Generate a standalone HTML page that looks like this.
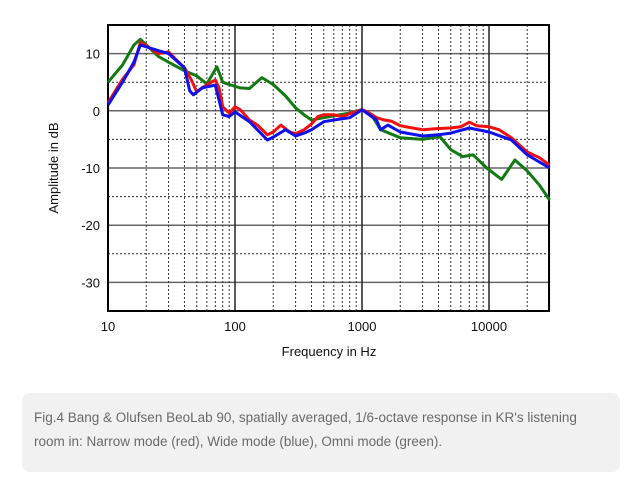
<!DOCTYPE html>
<html><head><meta charset="utf-8">
<style>
body{margin:0;background:#fff;width:637px;height:487px;overflow:hidden;font-family:"Liberation Sans",sans-serif}
#cap{position:absolute;left:22px;top:393px;width:598px;height:79px;background:#f1f1f1;border-radius:8px;box-sizing:border-box;padding:13px 40px 13px 12px;font-size:13.5px;line-height:24px;color:#6a6a6a}
</style></head><body>
<svg id="chart" width="637" height="390" style="position:absolute;left:0;top:0" font-family="Liberation Sans, sans-serif"></svg>
<div id="cap">Fig.4 Bang &amp; Olufsen BeoLab 90, spatially averaged, 1/6-octave response in KR's listening room in: Narrow mode (red), Wide mode (blue), Omni mode (green).</div>
<script>
const redF=[10,13,16,18,25,30,40,45,50,55,65,70,75,80,90,100,110,130,150,180,200,230,270,300,350,400,450,500,600,700,800,1000,1100,1300,1500,1700,2000,2500,3000,4000,5000,6000,7000,8000,10000,12000,15000,20000,25000,30000];
const redV=[1.4,5.5,8,12,10,10.3,7.5,5.5,3.3,4,5,5.4,4,0.7,-0.4,0.7,0.2,-1.6,-2.5,-4.2,-3.7,-2.5,-3.7,-4,-3.3,-2.3,-1,-0.7,-0.7,-1,-0.5,0.2,-0.2,-1.2,-1.6,-1.8,-2.6,-3,-3.3,-3.1,-3,-2.8,-2,-2.6,-2.8,-3.3,-4.7,-7.2,-8.2,-9.5];
const blueF=[10,13,16,18,25,30,40,44,47,55,70,80,90,100,130,180,200,250,300,350,400,500,600,800,1000,1300,1400,1600,2000,3000,4000,5000,7000,10000,15000,20000,30000];
const blueV=[1,5,8.5,11.5,10.5,10,7.5,3.5,2.8,4,4.5,-0.7,-1,-0.2,-1.9,-5.1,-4.6,-3.3,-4.4,-3.9,-3.3,-1.9,-1.6,-1.2,0.2,-1.6,-3.3,-2.5,-3.7,-4.4,-4.2,-3.9,-3,-3.7,-5.1,-7.7,-10];
const greenF=[10,13,16,18,25,30,40,50,60,72,80,90,110,130,163,200,250,300,350,400,500,600,800,1000,1200,1400,2000,3000,4100,5000,6200,7500,9600,12600,16000,20000,25000,30000];
const greenV=[5,8,11.5,12.5,9.5,8.5,7,6.1,4.7,7.7,5,4.6,4,3.9,5.8,4.6,2.6,0.5,-0.7,-1.6,-1.2,-0.9,-0.4,0.2,-0.9,-3.3,-4.7,-5,-4.5,-6.8,-8,-7.7,-10,-12,-8.6,-10.5,-13,-15.6];
const yTicks=[10,0,-10,-20,-30];
const xTicks=[10,100,1000,10000];
const L=108,R=549,T=25,B=311,dbTop=15,dbBot=-35;
const xs=f=>L+(Math.log10(f)-1)*127;
const ys=d=>T+(dbTop-d)/(dbTop-dbBot)*(B-T);
const svg=document.getElementById('chart');const NS='http://www.w3.org/2000/svg';
function mk(t,a,p){const e=document.createElementNS(NS,t);for(const k in a)e.setAttribute(k,a[k]);(p||svg).appendChild(e);return e;}
const grid=mk('g',{});
for(let d=15;d>=-35;d-=5){if(d===15||d===-35)continue;const solid=d%10===0;
 mk('line',{x1:L,x2:R,y1:ys(d),y2:ys(d),stroke:solid?'#666':'#333','stroke-width':solid?1.5:1,'stroke-dasharray':solid?'':'2,2'},grid);}
for(let dec=10;dec<=10000;dec*=10)for(let m=1;m<10;m++){const f=dec*m;if(f>30000)break;const x=xs(f);if(x<=L)continue;
 const solid=m===1;mk('line',{x1:x,x2:x,y1:T,y2:B,stroke:solid?'#222':'#333','stroke-width':solid?1.5:1,'stroke-dasharray':solid?'':'2,2'},grid);}
const fr=mk('rect',{x:L,y:T,width:R-L,height:B-T,fill:'none',stroke:'#000','stroke-width':2});

yTicks.forEach(d=>{const t=mk('text',{x:L-8,y:ys(d)+5,'text-anchor':'end','font-size':13,fill:'#111'});t.textContent=d;
 });
xTicks.forEach(f=>{const t=mk('text',{x:xs(f),y:331,'text-anchor':'middle','font-size':13,fill:'#111'});t.textContent=f;
 });
const xt=mk('text',{x:329,y:356,'text-anchor':'middle','font-size':13,fill:'#111'});xt.textContent='Frequency  in Hz';

const yt=mk('text',{x:58,y:168,'text-anchor':'middle','font-size':13,fill:'#111',transform:'rotate(-90 58 168)'});yt.textContent='Amplitude  in dB';

function series(F,V,c,n){const p=mk('path',{d:F.map((f,i)=>(i?'L':'M')+xs(f).toFixed(1)+','+ys(V[i]).toFixed(1)).join(''),fill:'none',stroke:c,'stroke-width':3,'stroke-linejoin':'round'});
 }
series(greenF,greenV,'#137a13','omni-mode-line');
series(redF,redV,'#f01010','narrow-mode-line');
series(blueF,blueV,'#1010e8','wide-mode-line');
</script>
</body></html>
